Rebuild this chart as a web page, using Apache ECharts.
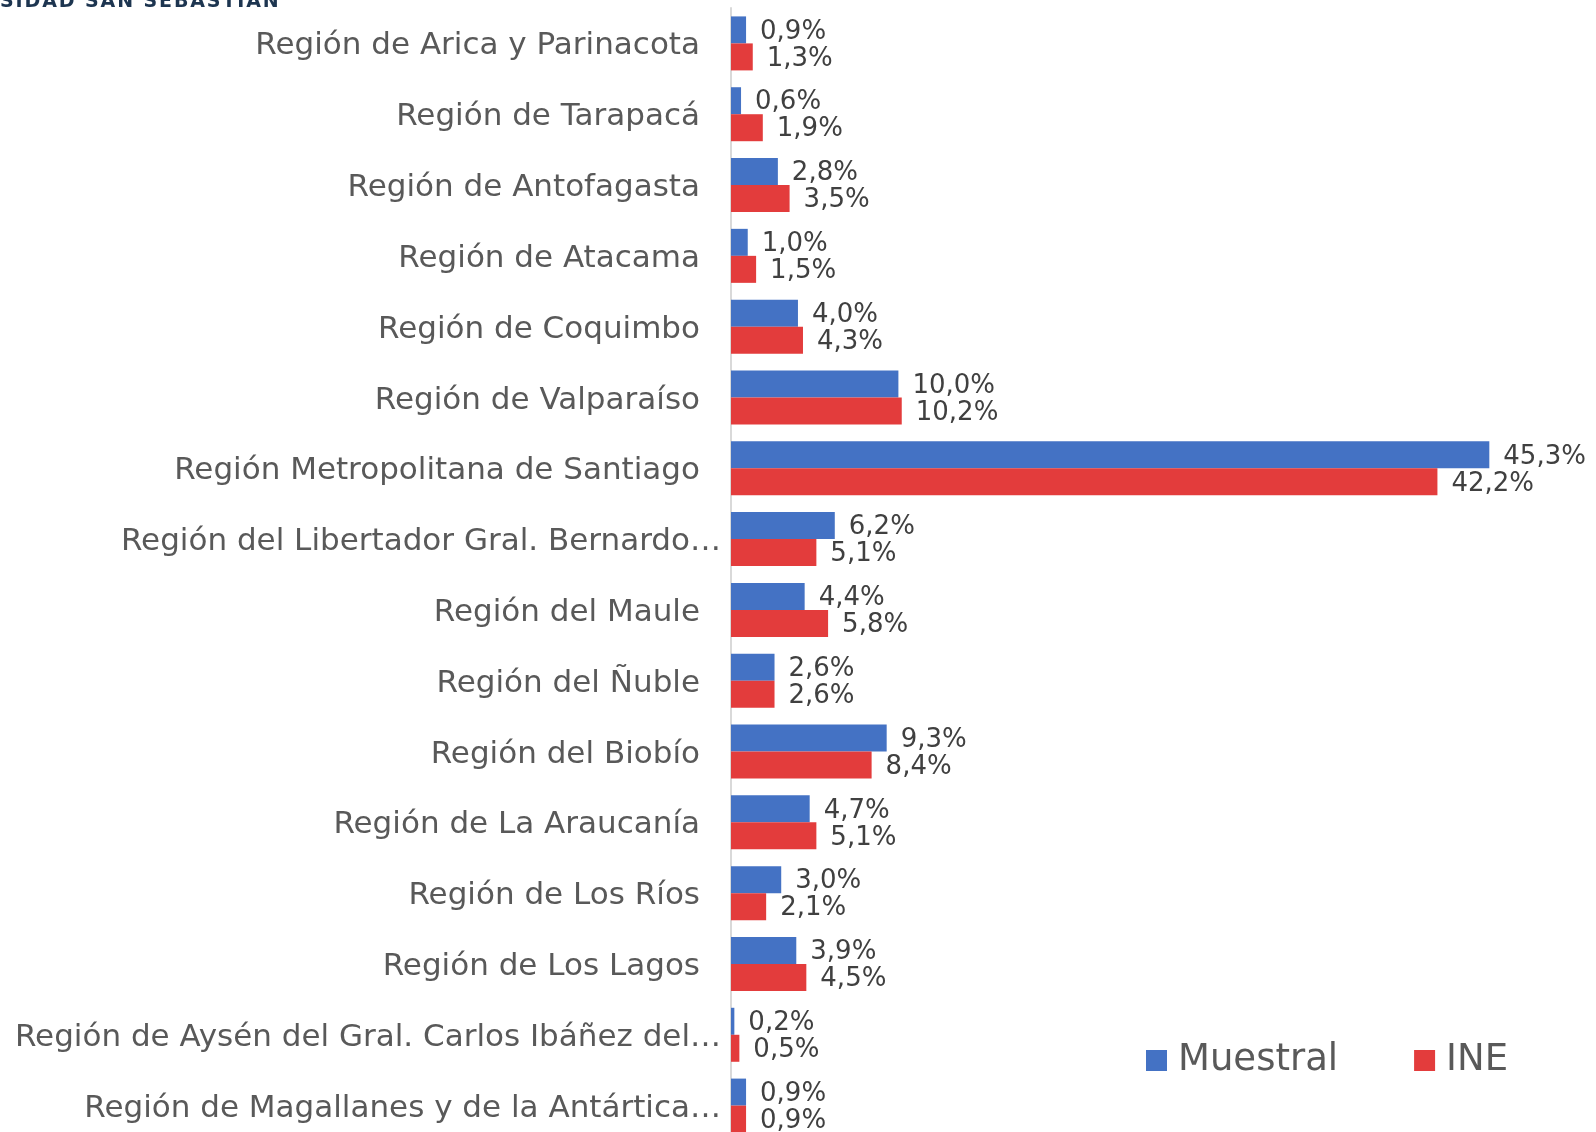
<!DOCTYPE html>
<html>
<head>
<meta charset="utf-8">
<script src="https://cdn.jsdelivr.net/npm/echarts@6/dist/echarts.min.js"></script>
<style>
html,body{margin:0;padding:0;background:#fff;}
#chart{width:1596px;height:1132px;}
</style>
</head>
<body>
<div id="chart"></div>
<script>
const regions = [
  'Región de Arica y Parinacota',
  'Región de Tarapacá',
  'Región de Antofagasta',
  'Región de Atacama',
  'Región de Coquimbo',
  'Región de Valparaíso',
  'Región Metropolitana de Santiago',
  'Región del Libertador Gral. Bernardo…',
  'Región del Maule',
  'Región del Ñuble',
  'Región del Biobío',
  'Región de La Araucanía',
  'Región de Los Ríos',
  'Región de Los Lagos',
  'Región de Aysén del Gral. Carlos Ibáñez del…',
  'Región de Magallanes y de la Antártica…'
];
const muestral = [0.9, 0.6, 2.8, 1.0, 4.0, 10.0, 45.3, 6.2, 4.4, 2.6, 9.3, 4.7, 3.0, 3.9, 0.2, 0.9];
const ine = [1.3, 1.9, 3.5, 1.5, 4.3, 10.2, 42.2, 5.1, 5.8, 2.6, 8.4, 5.1, 2.1, 4.5, 0.5, 0.9];

const font = 'DejaVu Sans';
const fmt = v => v.toFixed(1).replace('.', ',') + '%';

const chart = echarts.init(document.getElementById('chart'));

const option = {
  animation: false,
  textStyle: { fontFamily: font },
  graphic: [{
    type: 'text',
    left: 0,
    top: -7,
    style: {
      text: 'SIDAD SAN SEBASTIAN'.split('').join('\u200A'),
      fontFamily: 'DejaVu Sans',
      fontWeight: 'bold',
      fontSize: 19,
      fill: '#1d3550'
    }
  }],
  legend: {
    data: ['Muestral', 'INE'],
    left: 1141,
    top: 1037,
    icon: 'rect',
    itemWidth: 21,
    itemHeight: 21,
    itemGap: 76,
    textStyle: { fontFamily: font, fontSize: 37, color: '#595959', padding: [0, 0, 0, 6] }
  },
  grid: { left: 731, top: 8, width: 837, height: 1133, outerBoundsMode: 'none' },
  xAxis: {
    type: 'value',
    min: 0,
    max: 50,
    show: false
  },
  yAxis: {
    type: 'category',
    inverse: true,
    data: regions,
    axisLine: { show: true, lineStyle: { color: '#d9d9d9', width: 2 } },
    axisTick: { show: false },
    axisLabel: {
      margin: 10,
      fontFamily: font,
      fontSize: 31,
      color: '#595959',
      padding: [6, 0, 0, 0],
      formatter: v => v.endsWith('…') ? v : v + '{s|}',
      rich: { s: { width: 21 } }
    }
  },
  series: [
    {
      name: 'Muestral',
      type: 'bar',
      data: muestral,
      barWidth: 27,
      barGap: '0%',
      itemStyle: { color: '#4472c4' },
      label: {
        show: true, position: 'right', distance: 14, offset: [0, 2],
        formatter: p => fmt(p.value),
        fontFamily: font, fontSize: 26, color: '#404040'
      }
    },
    {
      name: 'INE',
      type: 'bar',
      data: ine,
      barWidth: 27,
      itemStyle: { color: '#e33c3c' },
      label: {
        show: true, position: 'right', distance: 14, offset: [0, 2],
        formatter: p => fmt(p.value),
        fontFamily: font, fontSize: 26, color: '#404040'
      }
    }
  ]
};
chart.setOption(option);
</script>
</body>
</html>
